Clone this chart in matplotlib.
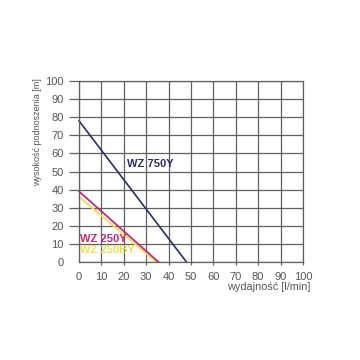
import matplotlib.pyplot as plt

plt.rcParams['font.family'] = ['Liberation Sans', 'DejaVu Sans']

# =========================
# Data
# =========================

flow_750 = [0, 48]
head_750 = [78, 0]

flow_250 = [0, 35.5]
head_250 = [39, 0]

flow_250b = [0, 34.5]
head_250b = [36, 0]

ticks = [0, 10, 20, 30, 40, 50, 60, 70, 80, 90, 100]

NAVY = "#2b2d66"
MAGENTA = "#c02a7a"
YELLOW = "#f0de58"
GRID = "#606060"
TEXT = "#555555"

# =========================
# Figure
# =========================

fig = plt.figure(figsize=(3.6, 3.6), dpi=100)
ax = fig.add_axes([0.2194, 0.2722, 0.6222, 0.5028])

ax.set_xlim(0, 100)
ax.set_ylim(0, 100)
ax.set_xticks(ticks)
ax.set_yticks(ticks)
ax.grid(True, color=GRID, linewidth=0.9)
ax.set_axisbelow(True)
for s in ax.spines.values():
    s.set_color(GRID)
    s.set_linewidth(0.9)

ax.tick_params(axis="y", length=7, width=0.9, color=GRID, pad=4,
               labelsize=8, labelcolor=TEXT)
ax.tick_params(axis="x", length=2.5, width=0.9, color=GRID, pad=4.5,
               labelsize=8, labelcolor=TEXT)
# no tick marks at the origin
ax.xaxis.get_major_ticks()[0].tick1line.set_visible(False)
ax.yaxis.get_major_ticks()[0].tick1line.set_visible(False)

ax.plot(flow_250b, head_250b, color=YELLOW, linewidth=1.4, clip_on=False)
ax.plot(flow_250, head_250, color=MAGENTA, linewidth=1.3, clip_on=False)
ax.plot(flow_750, head_750, color=NAVY, linewidth=1.2, clip_on=False)

ax.text(21.5, 54, "WZ 750Y", color=NAVY, fontsize=8, fontweight="bold",
        va="center", ha="left")
ax.text(0.3, 12.7, "WZ 250Y", color=MAGENTA, fontsize=8, fontweight="bold",
        va="center", ha="left")
ax.text(0.3, 6.6, "WZ 250BY", color=YELLOW, fontsize=8, fontweight="bold",
        va="center", ha="left")

fig.text(38 / 360, 1 - 78 / 360, "wysokość podnoszenia [m]", rotation=90,
         ha="center", va="top", fontsize=6.5, color=TEXT)
fig.text(310 / 360, 1 - 287 / 360, "wydajność [l/min]", ha="right",
         va="center", fontsize=7.8, color=TEXT)

fig.savefig("out.png", dpi=100)
